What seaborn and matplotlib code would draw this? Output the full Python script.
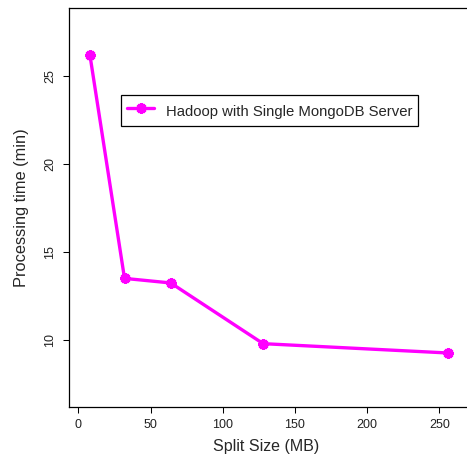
import matplotlib
matplotlib.use("Agg")
import matplotlib.pyplot as plt
import seaborn as sns
import pandas as pd

# Split sizes (MB) and processing times (minutes)
split_size = [8, 32, 64, 128, 256]
processing_time = [26.2, 13.48, 13.22, 9.77, 9.24]
series_name = "Hadoop with Single MongoDB Server"
x_ticks = [0, 50, 100, 150, 200, 250]
y_ticks = [10, 15, 20, 25]

df = pd.DataFrame({"split": split_size, "time": processing_time, "series": series_name})

sns.set_style("white")
plt.rcParams["font.family"] = ["Liberation Sans", "DejaVu Sans"]

W, H, DPI = 467, 463, 100
fig = plt.figure(figsize=(W / DPI, H / DPI), dpi=DPI)
left, right, bottom, top = 69.3, 475.0, 407.0, 8.3
ax = fig.add_axes([left / W, (H - bottom) / H, (right - left) / W, (bottom - top) / H])
ax.patch.set_visible(False)

magenta = "#FF00FF"
star = (8, 2, 0)  # eight-armed asterisk
sns.lineplot(data=df, x="split", y="time", hue="series", palette=[magenta],
             linewidth=2.4, ax=ax, legend=False)
for ln in ax.lines:
    ln.set_marker(star)
    ln.set_markersize(7.5)
    ln.set_markeredgewidth(2.3)
    ln.set_markeredgecolor(magenta)

ax.set_xlim(-6.23, 274.7)
ax.set_ylim(6.17, 28.83)
ax.set_xticks(x_ticks)
ax.set_yticks(y_ticks)
ax.tick_params(axis="both", direction="out", length=4.3, width=0.75, color="black",
               labelsize=9, labelcolor="#222222")
ax.tick_params(axis="x", pad=4.0, bottom=True)
ax.tick_params(axis="y", pad=5.0, left=True)
for lbl in ax.get_yticklabels():
    lbl.set_rotation(90)
    lbl.set_va("center")

for s in ax.spines.values():
    s.set_color("black")
    s.set_linewidth(0.9)
ax.spines["right"].set_visible(False)

ax.set_xlabel("")
ax.set_ylabel("")
fig.text(266 / W, 1 - 447 / H, "Split Size (MB)", fontsize=11.5, ha="center", va="center")
fig.text(22 / W, 1 - 208 / H, "Processing time (min)", fontsize=11.8, ha="center",
         va="center", rotation=90)

leg = ax.legend(handles=[ax.lines[0]], labels=[series_name], loc="center",
                bbox_to_anchor=(0.4935, 0.743), frameon=True,
                fancybox=False, fontsize=10.7, handlelength=1.85, handletextpad=0.75,
                handleheight=1.6, borderpad=0.4, borderaxespad=0)
leg.get_frame().set_edgecolor("black")
leg.get_frame().set_linewidth(0.9)
leg.get_frame().set_alpha(1)

fig.savefig("out.png", dpi=DPI)
